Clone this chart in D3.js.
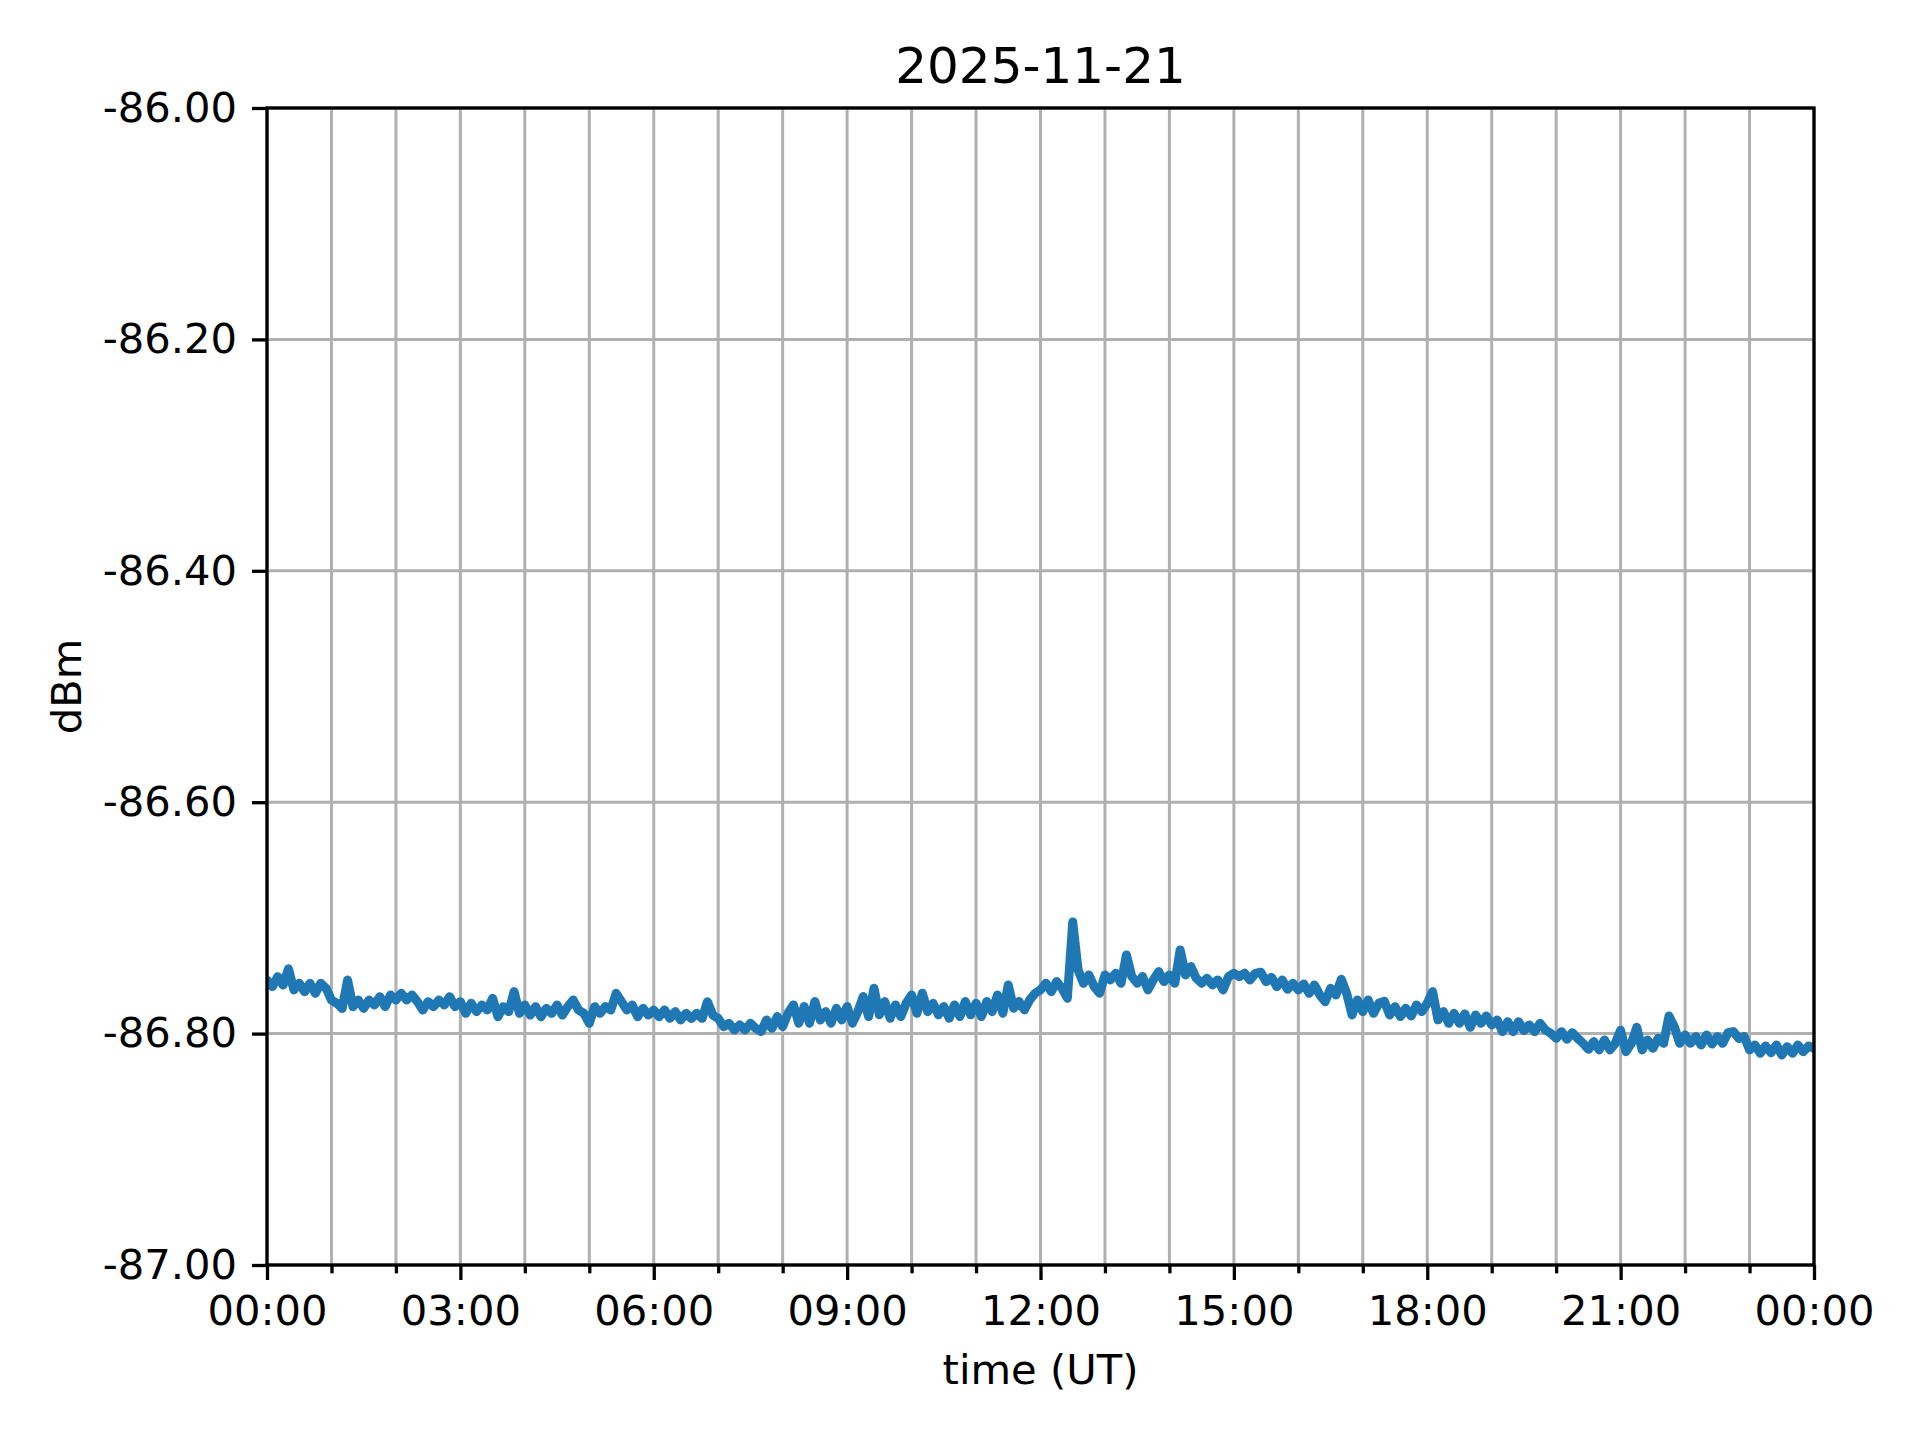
<!DOCTYPE html>
<html>
<head>
<meta charset="utf-8">
<script src="https://cdn.jsdelivr.net/npm/d3@7"></script>
<style>
  body { margin: 0; background: #fff; }
  text { font-family: "DejaVu Sans", sans-serif; }
</style>
</head>
<body>
<svg id="chart" width="1920" height="1440"></svg>
<script>
// received power, one sample every 5 minutes (UT), 2025-11-21 00:00 -> 2025-11-22 00:00
var titleText = "2025-11-21"
var dayStart = Date.UTC(2025, 10, 21, 0, 0)
var sampleMinutes = 5
var dbm = [
  -86.7537, -86.7594, -86.7508, -86.7580, -86.7440, -86.7623, -86.7565, -86.7638, -86.7565, -86.7652, -86.7565, -86.7608,
  -86.7710, -86.7738, -86.7782, -86.7537, -86.7767, -86.7710, -86.7782, -86.7710, -86.7753, -86.7681, -86.7767, -86.7666,
  -86.7710, -86.7652, -86.7710, -86.7666, -86.7724, -86.7796, -86.7724, -86.7767, -86.7710, -86.7753, -86.7681, -86.7767,
  -86.7724, -86.7825, -86.7738, -86.7810, -86.7753, -86.7796, -86.7695, -86.7854, -86.7767, -86.7810, -86.7637, -86.7825,
  -86.7753, -86.7840, -86.7767, -86.7854, -86.7782, -86.7825, -86.7753, -86.7840, -86.7767, -86.7710, -86.7796, -86.7825,
  -86.7911, -86.7767, -86.7825, -86.7767, -86.7796, -86.7652, -86.7724, -86.7796, -86.7753, -86.7854, -86.7782, -86.7840,
  -86.7796, -86.7854, -86.7796, -86.7868, -86.7810, -86.7882, -86.7825, -86.7868, -86.7825, -86.7868, -86.7724, -86.7840,
  -86.7868, -86.7940, -86.7911, -86.7969, -86.7925, -86.7969, -86.7911, -86.7955, -86.7982, -86.7882, -86.7954, -86.7853,
  -86.7939, -86.7824, -86.7752, -86.7910, -86.7766, -86.7910, -86.7723, -86.7882, -86.7810, -86.7910, -86.7781, -86.7882,
  -86.7766, -86.7910, -86.7810, -86.7680, -86.7853, -86.7608, -86.7838, -86.7723, -86.7867, -86.7752, -86.7853, -86.7738,
  -86.7666, -86.7824, -86.7651, -86.7810, -86.7738, -86.7838, -86.7766, -86.7867, -86.7752, -86.7853, -86.7723, -86.7838,
  -86.7738, -86.7853, -86.7723, -86.7810, -86.7666, -86.7824, -86.7579, -86.7781, -86.7723, -86.7795, -86.7709, -86.7651,
  -86.7622, -86.7565, -86.7637, -86.7550, -86.7608, -86.7694, -86.7035, -86.7450, -86.7565, -86.7493, -86.7594, -86.7651,
  -86.7493, -86.7536, -86.7478, -86.7565, -86.7320, -86.7507, -86.7565, -86.7507, -86.7622, -86.7536, -86.7464, -86.7550,
  -86.7493, -86.7565, -86.7277, -86.7493, -86.7421, -86.7522, -86.7565, -86.7522, -86.7579, -86.7536, -86.7622, -86.7507,
  -86.7478, -86.7507, -86.7478, -86.7537, -86.7479, -86.7470, -86.7551, -86.7514, -86.7594, -86.7537, -86.7617, -86.7565,
  -86.7623, -86.7571, -86.7652, -86.7580, -86.7666, -86.7724, -86.7609, -86.7666, -86.7531, -86.7652, -86.7839, -86.7709,
  -86.7810, -86.7709, -86.7825, -86.7738, -86.7720, -86.7839, -86.7767, -86.7853, -86.7781, -86.7848, -86.7753, -86.7810,
  -86.7738, -86.7637, -86.7882, -86.7810, -86.7911, -86.7825, -86.7911, -86.7830, -86.7946, -86.7839, -86.7911, -86.7848,
  -86.7925, -86.7882, -86.7983, -86.7897, -86.7983, -86.7897, -86.7974, -86.7925, -86.7983, -86.7911, -86.7969, -86.7997,
  -86.8041, -86.7983, -86.8049, -86.7992, -86.8041, -86.8084, -86.8136, -86.8069, -86.8141, -86.8055, -86.8141, -86.8084,
  -86.7971, -86.8156, -86.8084, -86.7946, -86.8141, -86.8055, -86.8127, -86.8041, -86.8084, -86.7848, -86.7940, -86.8084,
  -86.8012, -86.8084, -86.8026, -86.8098, -86.8012, -86.8090, -86.8026, -86.8084, -86.7992, -86.7983, -86.8041, -86.8026,
  -86.8141, -86.8098, -86.8170, -86.8107, -86.8165, -86.8098, -86.8185, -86.8113, -86.8170, -86.8098, -86.8156, -86.8107,
  -86.8127
]
var yTicks = [-86.0, -86.2, -86.4, -86.6, -86.8, -87.0]
var majorHours = [0, 3, 6, 9, 12, 15, 18, 21, 24]
var minorHours = [1, 2, 4, 5, 7, 8, 10, 11, 13, 14, 16, 17, 19, 20, 22, 23]

var margin = {top: 108, right: 106, bottom: 175, left: 267}
var width = 1920 - margin.left - margin.right
var height = 1440 - margin.top - margin.bottom
var fontPx = 41.67
var lw = 3.3

var svg = d3.select("#chart")
var g = svg.append("g").attr("transform", "translate(" + margin.left + "," + margin.top + ")")

var hourDate = function(h) { return new Date(dayStart + h * 3600000) }
var x = d3.scaleUtc().domain([hourDate(0), hourDate(24)]).range([0, width])
var y = d3.scaleLinear().domain([-87, -86]).range([height, 0])

var points = dbm.map(function(v, i) {
  return {t: new Date(dayStart + i * sampleMinutes * 60000), v: v}
})

// grid: every hour vertically, every y tick horizontally
var allHours = majorHours.concat(minorHours).map(hourDate)
g.append("g").attr("class", "grid")
  .selectAll("line").data(allHours).enter().append("line")
  .attr("x1", function(d) { return x(d) }).attr("x2", function(d) { return x(d) })
  .attr("y1", 0).attr("y2", height)
g.append("g").attr("class", "grid")
  .selectAll("line").data(yTicks).enter().append("line")
  .attr("x1", 0).attr("x2", width)
  .attr("y1", function(d) { return y(d) }).attr("y2", function(d) { return y(d) })
g.selectAll(".grid line").attr("stroke", "#b0b0b0").attr("stroke-width", 3)

// clip the trace to the axes box
svg.append("defs").append("clipPath").attr("id", "plotClip")
  .append("rect").attr("width", width).attr("height", height)

var line = d3.line()
  .x(function(d) { return x(d.t) })
  .y(function(d) { return y(d.v) })

// the original trace is densely sampled and reads as a solid band,
// so the stroke is a bit wider than matplotlib's 1.5pt
g.append("path")
  .datum(points)
  .attr("clip-path", "url(#plotClip)")
  .attr("fill", "none")
  .attr("stroke", "#1f77b4")
  .attr("stroke-width", 9)
  .attr("stroke-linejoin", "round")
  .attr("stroke-linecap", "round")
  .attr("d", line)

// axes
var xMajor = d3.axisBottom(x)
  .tickValues(majorHours.map(hourDate))
  .tickFormat(d3.utcFormat("%H:%M"))
  .tickSizeInner(15).tickSizeOuter(0).tickPadding(15)
var xMinor = d3.axisBottom(x)
  .tickValues(minorHours.map(hourDate))
  .tickFormat("")
  .tickSizeInner(8.3).tickSizeOuter(0)
var yAxis = d3.axisLeft(y)
  .tickValues(yTicks)
  .tickFormat(function(d) { return d.toFixed(2) })
  .tickSizeInner(15).tickSizeOuter(0).tickPadding(15)

var gxMinor = g.append("g").attr("transform", "translate(0," + height + ")").call(xMinor)
var gx = g.append("g").attr("transform", "translate(0," + height + ")").call(xMajor)
var gy = g.append("g").call(yAxis)

;[gx, gxMinor, gy].forEach(function(a) {
  a.select(".domain").remove()
  a.selectAll(".tick line").attr("stroke", "#000").attr("stroke-width", lw)
  a.selectAll(".tick text")
    .attr("fill", "#000")
    .style("font-family", "DejaVu Sans")
    .style("font-size", fontPx + "px")
})

// spines
g.append("rect")
  .attr("width", width).attr("height", height)
  .attr("fill", "none").attr("stroke", "#000").attr("stroke-width", lw)

// labels
svg.append("text")
  .attr("x", margin.left + width / 2).attr("y", 83)
  .attr("text-anchor", "middle")
  .style("font-size", "50px")
  .text(titleText)

svg.append("text")
  .attr("x", margin.left + width / 2).attr("y", 1384)
  .attr("text-anchor", "middle")
  .style("font-size", fontPx + "px")
  .text("time (UT)")

svg.append("text")
  .attr("transform", "translate(81," + (margin.top + height / 2) + ") rotate(-90)")
  .attr("text-anchor", "middle")
  .style("font-size", fontPx + "px")
  .text("dBm")
</script>
</body>
</html>
